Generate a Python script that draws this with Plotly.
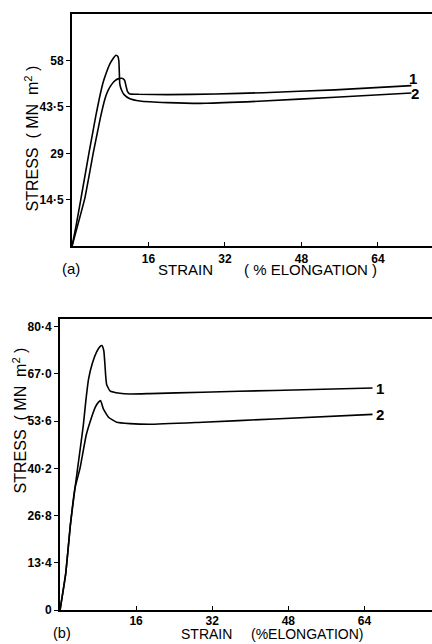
import plotly.graph_objects as go

# ---------------- data ----------------
# Panel (a)
a1_strain = [0, 1.0, 2.7, 4.5, 5.9, 6.9, 7.5, 8.3, 9.0, 9.8, 10.4, 11.0, 11.3, 11.6, 12.0, 14.0, 20, 30, 40, 55, 71]
a1_stress = [0, 5.5, 15.1, 29.5, 39.8, 46.0, 48.5, 50.5, 51.7, 52.3, 52.4, 51.8, 50.0, 48.3, 47.6, 47.4, 47.3, 47.5, 47.9, 48.8, 50.1]
a2_strain = [0, 0.8, 1.9, 3.6, 5.0, 5.7, 6.5, 7.2, 7.9, 8.6, 9.2, 9.6, 9.8, 9.9, 10.0, 10.4, 10.9, 12.1, 14.2, 20, 28, 40, 55, 71]
a2_stress = [0, 6.0, 15.1, 29.5, 40.8, 46.0, 51.1, 54.2, 56.8, 58.6, 59.6, 59.2, 57.8, 54.2, 50.6, 48.6, 47.3, 46.0, 45.3, 44.8, 44.6, 45.3, 46.5, 47.8]
# Panel (b)
b1_strain = [0, 1.2, 2.2, 3.15, 3.7, 4.9, 5.4, 6.0, 6.8, 7.7, 8.4, 8.8, 9.2, 9.4, 9.6, 9.8, 10.5, 12.6, 14.7, 18.9, 30, 45, 65.7]
b1_stress = [0, 10.4, 24.4, 34.6, 40.2, 52.4, 59.0, 65.5, 70.0, 73.2, 74.7, 75.0, 73.6, 70.5, 66.5, 64.0, 62.2, 61.5, 61.3, 61.4, 61.8, 62.3, 63.0]
b2_strain = [0, 1.2, 2.2, 3.15, 4.2, 5.5, 6.3, 7.4, 8.1, 8.55, 9.1, 10.2, 11.9, 14.7, 18.9, 30, 45, 65.7]
b2_stress = [0, 10.4, 24.4, 34.6, 40.2, 49.6, 53.3, 57.5, 59.0, 59.4, 57.1, 54.7, 53.3, 52.9, 52.7, 53.3, 54.2, 55.5]

a_yticks = [14.5, 29, 43.5, 58]
a_yticktext = ["14·5", "29", "43·5", "58"]
b_yticks = [0, 13.4, 26.8, 40.2, 53.6, 67.0, 80.4]
b_yticktext = ["0", "13·4", "26·8", "40·2", "53·6", "67·0", "80·4"]
x_ticks = [16, 32, 48, 64]

# ---------------- figure ----------------
FONT = "Liberation Sans, Arial, Helvetica, sans-serif"
W, H = 432, 644
line = dict(color="black", width=1.6)

fig = go.Figure()
fig.add_trace(go.Scatter(x=a1_strain, y=a1_stress, mode="lines", line=dict(line, shape="spline", smoothing=0.4), xaxis="x", yaxis="y"))
fig.add_trace(go.Scatter(x=a2_strain, y=a2_stress, mode="lines", line=dict(line, shape="spline", smoothing=0.4), xaxis="x", yaxis="y"))
fig.add_trace(go.Scatter(x=b1_strain, y=b1_stress, mode="lines", line=dict(line, shape="spline", smoothing=0.4), xaxis="x2", yaxis="y2"))
fig.add_trace(go.Scatter(x=b2_strain, y=b2_stress, mode="lines", line=dict(line, shape="spline", smoothing=0.4), xaxis="x2", yaxis="y2"))

tickfont = dict(family=FONT, size=12, color="black", weight="bold")

def xax(domain, rng, anchor, standoff=0):
    return dict(domain=domain, range=rng, anchor=anchor, showgrid=False, zeroline=False,
                showline=True, linecolor="black", linewidth=2, mirror=True,
                ticks="inside", ticklen=4, tickwidth=1.2, tickcolor="black",
                ticklabelstandoff=standoff,
                tickvals=x_ticks, ticktext=[str(v) for v in x_ticks], tickfont=tickfont)

def yax(domain, rng, anchor, vals, text):
    return dict(domain=domain, range=rng, anchor=anchor, showgrid=False, zeroline=False,
                showline=True, linecolor="black", linewidth=2,
                ticks="outside", ticklen=4, tickwidth=1.2, tickcolor="black",
                tickvals=vals, ticktext=text, tickfont=tickfont)

fig.update_layout(
    width=W, height=H, margin=dict(l=0, r=0, t=0, b=0),
    paper_bgcolor="white", plot_bgcolor="white", showlegend=False,
    xaxis=xax([72 / W, 1.0], [0, 75.3], "y"),
    yaxis=yax([1 - 249 / H, 1 - 14 / H], [0, 72.5], "x", a_yticks, a_yticktext),
    xaxis2=xax([60 / W, 1.0], [0, 78.2], "y2", standoff=-2),
    yaxis2=yax([1 - 617 / H, 1 - 323 / H], [0, 82.4], "x2", b_yticks, b_yticktext),
)

def ann(text, x, y, size=15, angle=0, xanchor="center", yanchor="middle",
        xref="paper", yref="paper", bold=False, yshift=0):
    if bold:
        text = "<b>" + text + "</b>"
    fig.add_annotation(text=text, x=x, y=y, xref=xref, yref=yref, showarrow=False,
                       xanchor=xanchor, yanchor=yanchor, textangle=angle, borderpad=0,
                       yshift=yshift, font=dict(family=FONT, size=size, color="black"))

# panel (a) texts
ann("STRESS  ( MN  m<sup>2</sup> )", 32 / W, 1 - 140 / H, size=16, angle=-90)
ann("(a)", 71 / W, 1 - 271 / H, size=15)
ann("STRAIN", 185 / W, 1 - 272 / H, size=15)
ann("( % ELONGATION )", 310 / W, 1 - 272 / H, size=15)
ann("1", 70.3, 52.2, size=15, xanchor="left", xref="x", yref="y", bold=True)
ann("2", 70.8, 47.5, size=15, xanchor="left", xref="x", yref="y", bold=True)

# panel (b) texts
ann("STRESS  ( MN  m<sup>2</sup> )", 20 / W, 1 - 425 / H, size=16, angle=-90)
ann("(b)", 62 / W, 0.0, size=14.5, yanchor="bottom", yshift=-5)
ann("STRAIN", 206 / W, 0.0, size=14, yanchor="bottom", yshift=-6)
ann("(%ELONGATION)", 307 / W, 0.0, size=14, yanchor="bottom", yshift=-6)
ann("1", 66.3, 62.9, size=15, xanchor="left", xref="x2", yref="y2", bold=True)
ann("2", 66.3, 55.5, size=15, xanchor="left", xref="x2", yref="y2", bold=True)

fig.write_html("out.html")
